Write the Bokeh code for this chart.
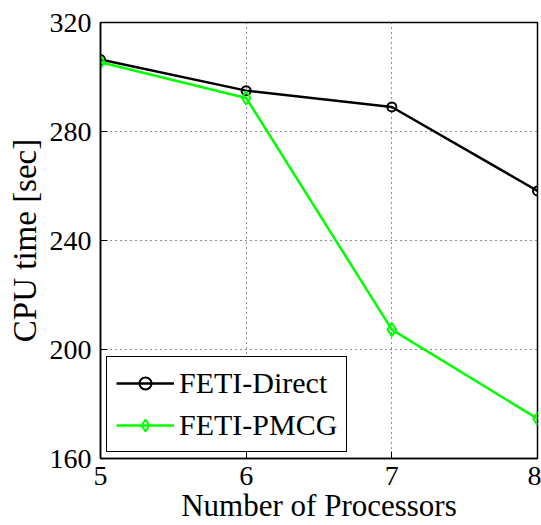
from bokeh.plotting import figure
from bokeh.models import Range1d, FixedTicker, Legend, LegendItem
from bokeh.embed import file_html
from bokeh.resources import INLINE

processors = [5, 6, 7, 8]
feti_direct = [306.4, 295.0, 289.0, 258.2]
feti_pmcg = [305.4, 292.3, 207.3, 174.6]
x_ticks = [5, 6, 7, 8]
y_ticks = [160, 200, 240, 280, 320]

FONT = "Liberation Serif"

p = figure(width=541, height=525, output_backend="svg", toolbar_location=None,
           x_range=Range1d(5, 8), y_range=Range1d(160, 320),
           min_border_left=100, min_border_right=4, min_border_top=22, min_border_bottom=66)

p.outline_line_color = "black"
p.outline_line_width = 1.5

for ax in (p.xaxis[0], p.yaxis[0]):
    ax.major_label_text_font = FONT
    ax.major_label_text_font_size = "28px"
    ax.major_label_text_color = "black"
    ax.axis_label_text_font = FONT
    ax.axis_label_text_font_style = "normal"
    ax.axis_label_text_color = "black"
    ax.major_tick_in = 7
    ax.major_tick_out = 0
    ax.minor_tick_in = 0
    ax.minor_tick_out = 0
    ax.axis_line_color = "black"
    ax.axis_line_width = 1.5
    ax.major_tick_line_color = "black"

p.xaxis.ticker = FixedTicker(ticks=x_ticks)
p.yaxis.ticker = FixedTicker(ticks=y_ticks)
p.xaxis.axis_label = "Number of Processors"
p.yaxis.axis_label = "CPU time [sec]"
p.xaxis.axis_label_text_font_size = "31px"
p.yaxis.axis_label_text_font_size = "33px"
p.xaxis.major_label_standoff = 8
p.yaxis.major_label_standoff = 9
p.xaxis.axis_label_standoff = 0
p.yaxis.axis_label_standoff = 4

for g in (p.xgrid[0], p.ygrid[0]):
    g.grid_line_color = "#222222"
    g.grid_line_dash = "1 4"
    g.grid_line_width = 1

l1 = p.line(processors, feti_direct, line_color="black", line_width=2.5)
m1 = p.scatter(processors, feti_direct, marker="circle", size=9, fill_color=None,
               line_color="black", line_width=2)
l2 = p.line(processors, feti_pmcg, line_color="#00ff00", line_width=2.5)
m2 = p.scatter(processors, feti_pmcg, marker="diamond", size=13, fill_color=None,
               line_color="#00ff00", line_width=2)

legend = Legend(items=[LegendItem(label="FETI-Direct", renderers=[l1, m1]),
                       LegendItem(label="FETI-PMCG", renderers=[l2, m2])],
                location="bottom_left")
legend.label_text_font = FONT
legend.label_text_font_size = "30px"
legend.label_text_color = "black"
legend.border_line_color = "black"
legend.border_line_alpha = 1
legend.border_line_width = 1.5
legend.glyph_width = 58
legend.glyph_height = 30
legend.label_standoff = 5
legend.spacing = 8
legend.padding = 9
legend.margin = 6
legend.background_fill_alpha = 1
p.add_layout(legend)

open("out.html", "w").write(file_html(p, INLINE))
